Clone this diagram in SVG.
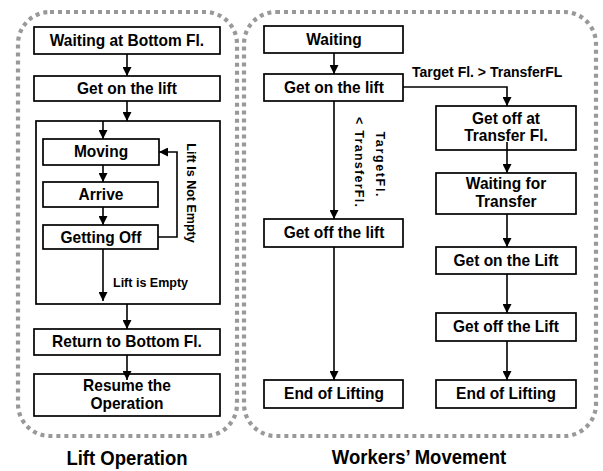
<svg xmlns="http://www.w3.org/2000/svg" width="603" height="471" viewBox="0 0 603 471">
  <style>
    .frame { fill: none; stroke: #999999; stroke-width: 4.2; stroke-dasharray: 4 4; }
    .box { fill: #ffffff; stroke: #000000; stroke-width: 1.7; }
    .lbl { font-family: "Liberation Sans", Arial, sans-serif; font-weight: bold; font-size: 15.5px; text-anchor: middle; fill: #000000;
           transform-box: fill-box; transform-origin: center; transform: scaleY(1.08); }
    .small { font-family: "Liberation Sans", Arial, sans-serif; font-weight: bold; font-size: 12.5px; fill: #000000; }
    .title { font-family: "Liberation Sans", Arial, sans-serif; font-weight: bold; font-size: 18.5px; text-anchor: middle; fill: #000000;
             transform-box: fill-box; transform-origin: center; transform: scaleY(1.06); }
    .wire { fill: none; stroke: #000000; stroke-width: 1.6; marker-end: url(#arrow); }
  </style>
  <defs>
    <marker id="arrow" viewBox="0 0 10 10" refX="10" refY="5" markerUnits="userSpaceOnUse" markerWidth="9" markerHeight="9" orient="auto">
      <path d="M0,0 L10,5 L0,10 z" fill="#000000"/>
    </marker>
  </defs>

  <rect width="603" height="471" fill="#ffffff"/>

  <!-- dotted group frames -->
  <g id="frame-lift">
    <rect class="frame" x="18" y="12" width="219" height="424" rx="32" ry="32"/>
    <text class="title" x="127" y="465">Lift Operation</text>
  </g>
  <g id="frame-workers">
    <rect class="frame" x="244" y="12" width="352" height="424" rx="32" ry="32"/>
    <text class="title" x="419" y="464">Workers’ Movement</text>
  </g>

  <!-- Lift operation nodes -->
  <g id="wait-bottom">
    <rect class="box" x="34" y="27" width="186" height="27"/>
    <text class="lbl" x="127" y="46">Waiting at Bottom Fl.</text>
  </g>
  <g id="lift-get-on">
    <rect class="box" x="34" y="76" width="186" height="25"/>
    <text class="lbl" x="127" y="94">Get on the lift</text>
  </g>
  <g id="lift-cycle">
    <rect class="box" x="36" y="121" width="184" height="183"/>
  </g>
  <g id="moving">
    <rect class="box" x="43" y="139" width="116" height="26"/>
    <text class="lbl" x="101" y="157">Moving</text>
  </g>
  <g id="arrive">
    <rect class="box" x="43" y="182" width="115" height="25"/>
    <text class="lbl" x="101" y="200">Arrive</text>
  </g>
  <g id="getting-off">
    <rect class="box" x="43" y="225" width="115" height="24"/>
    <text class="lbl" x="101" y="243">Getting Off</text>
  </g>
  <g id="return-bottom">
    <rect class="box" x="34" y="329" width="186" height="26"/>
    <text class="lbl" x="127" y="347">Return to Bottom Fl.</text>
  </g>
  <g id="resume">
    <rect class="box" x="34" y="374" width="186" height="42"/>
    <text class="lbl" x="127" y="391">Resume the</text>
    <text class="lbl" x="127" y="409">Operation</text>
  </g>

  <!-- Worker movement nodes -->
  <g id="w-waiting">
    <rect class="box" x="264" y="26" width="139" height="27"/>
    <text class="lbl" x="334" y="45">Waiting</text>
  </g>
  <g id="w-get-on">
    <rect class="box" x="264" y="74" width="139" height="27"/>
    <text class="lbl" x="334" y="93">Get on the lift</text>
  </g>
  <g id="w-get-off">
    <rect class="box" x="264" y="219" width="139" height="28"/>
    <text class="lbl" x="334" y="238">Get off the lift</text>
  </g>
  <g id="w-end-a">
    <rect class="box" x="264" y="380" width="139" height="28"/>
    <text class="lbl" x="334" y="399">End of Lifting</text>
  </g>
  <g id="w-off-transfer">
    <rect class="box" x="436" y="106" width="140" height="44"/>
    <text class="lbl" x="506" y="124">Get off at</text>
    <text class="lbl" x="506" y="141">Transfer Fl.</text>
  </g>
  <g id="w-wait-transfer">
    <rect class="box" x="436" y="173" width="140" height="41"/>
    <text class="lbl" x="506" y="189">Waiting for</text>
    <text class="lbl" x="506" y="207">Transfer</text>
  </g>
  <g id="w-get-on-2">
    <rect class="box" x="436" y="247" width="140" height="27"/>
    <text class="lbl" x="506" y="266">Get on the Lift</text>
  </g>
  <g id="w-get-off-2">
    <rect class="box" x="436" y="313" width="140" height="28"/>
    <text class="lbl" x="506" y="332">Get off the Lift</text>
  </g>
  <g id="w-end-b">
    <rect class="box" x="436" y="380" width="140" height="28"/>
    <text class="lbl" x="506" y="399">End of Lifting</text>
  </g>

  <!-- connectors and their labels -->
  <g id="connectors">
    <path class="wire" d="M127,54 V76"/>
    <path class="wire" d="M127,101 V121"/>
    <path class="wire" d="M103,121 V139"/>
    <path class="wire" d="M103,165 V182"/>
    <path class="wire" d="M103,207 V225"/>
    <path class="wire" d="M158,237 H177 V152 H159"/>
    <path class="wire" d="M103,249 V301"/>
    <path class="wire" d="M127,304 V329"/>
    <path class="wire" d="M127,355 V380"/>

    <path class="wire" d="M334,53 V74"/>
    <path class="wire" d="M403,87 H507 V106"/>
    <path class="wire" d="M334,101 V219"/>
    <path class="wire" d="M334,247 V380"/>
    <path class="wire" d="M507,142 V173"/>
    <path class="wire" d="M507,214 V247"/>
    <path class="wire" d="M507,274 V313"/>
    <path class="wire" d="M507,341 V380"/>

    <text class="small" transform="translate(187,193) rotate(90)" text-anchor="middle">Lift Is Not Empty</text>
    <text class="small" x="113" y="287">Lift is Empty</text>
    <text class="small" x="412" y="77" style="font-size:14px">Target Fl. &gt; TransferFL</text>
    <text class="small" transform="translate(376,164) rotate(90)" text-anchor="middle" textLength="65" lengthAdjust="spacing">TargetFl.</text>
    <text class="small" transform="translate(355,162) rotate(90)" text-anchor="middle" textLength="90" lengthAdjust="spacing">&lt; TransferFl.</text>
  </g>
</svg>
